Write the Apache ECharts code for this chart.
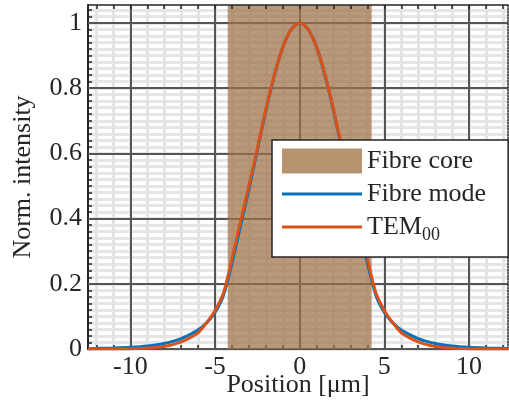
<!DOCTYPE html>
<html>
<head>
    <meta charset="utf-8"/>
    <title>Fibre mode</title>
    <script type="text/javascript" src="https://cdn.jsdelivr.net/npm/echarts@6.0.0/dist/echarts.min.js"></script>
    <style>
        html, body {
            margin: 0;
            padding: 0;
            background: #fff;
        }
    </style>
</head>
<body>
<div id="mode-container" style="width:509px;height:403px"></div>

<script type="text/javascript">
    // positions in um
    let positions = [-12.5, -11, -10, -9, -8, -7, -6, -5.5, -5, -4.5, -4, -3.5, -3, -2.5, -2, -1.5, -1, -0.5, 0,
        0.5, 1, 1.5, 2, 2.5, 3, 3.5, 4, 4.5, 5, 5.5, 6, 7, 8, 9, 10, 11, 12.5];
    let fibreMode = [0.001, 0.003, 0.005, 0.009, 0.017, 0.032, 0.058, 0.08, 0.112, 0.165, 0.263, 0.376, 0.49, 0.61, 0.73, 0.838, 0.925, 0.98, 1,
        0.98, 0.925, 0.838, 0.73, 0.61, 0.49, 0.376, 0.263, 0.165, 0.112, 0.08, 0.058, 0.032, 0.017, 0.009, 0.005, 0.003, 0.001];
    let tem00 = [0, 0.0003, 0.001, 0.003, 0.008, 0.022, 0.05, 0.08, 0.118, 0.172, 0.276, 0.39, 0.5, 0.615, 0.735, 0.84, 0.925, 0.98, 1,
        0.98, 0.925, 0.84, 0.735, 0.615, 0.5, 0.39, 0.276, 0.172, 0.118, 0.08, 0.05, 0.022, 0.008, 0.003, 0.001, 0.0003, 0];
    let coreEdges = [-4.25, 4.25];

    let xMajor = [-10, -5, 0, 5, 10];
    let xMinor = [-12, -11, -10, -9, -8, -7, -6, -5, -4, -3, -2, -1, 0, 1, 2, 3, 4, 5, 6, 7, 8, 9, 10, 11, 12];
    let yMajor = [0, 0.2, 0.4, 0.6, 0.8, 1];
    let yMinor = [];
    for (let i = 0; i <= 52; i++) {
        yMinor.push(Math.round(i * 2) / 100);
    }

    let font = 'Liberation Serif';
    let ink = '#262626';
    let fs = 26;

    function pairs(xs, ys) {
        return xs.map(function (x, i) {
            return [x, ys[i]];
        });
    }

    let chart = echarts.init(document.getElementById('mode-container'));

    let xBase = {
        type: 'value',
        min: -12.5,
        max: 12.3,
        gridIndex: 0
    };
    let yBase = {
        type: 'value',
        min: 0,
        max: 1.055,
        gridIndex: 0
    };

    chart.setOption({
        animation: false,
        grid: {
            left: 88,
            right: 1,
            top: 5,
            bottom: 54,
            containLabel: false,
            outerBoundsMode: 'none'
        },
        legend: {
            orient: 'vertical',
            left: 272,
            top: 140,
            padding: [8, 22, 13, 10],
            itemWidth: 80,
            itemHeight: 25,
            itemGap: 7,
            backgroundColor: '#fff',
            borderColor: ink,
            borderWidth: 1.5,
            borderRadius: 0,
            textStyle: {
                color: ink,
                fontFamily: font,
                fontSize: fs,
                rich: {
                    m: {fontFamily: font, fontSize: fs, color: ink},
                    s: {fontFamily: font, fontSize: 18, color: ink, padding: [16, 0, 0, 0]}
                }
            },
            formatter: function (name) {
                if (name === 'TEM00') {
                    return '{m|TEM}{s|00}';
                }
                return '{m|' + name + '}';
            },
            data: [
                {name: 'Fibre core', icon: 'rect'},
                {name: 'Fibre mode', icon: 'path://M0,0H80V3H0Z'},
                {name: 'TEM00', icon: 'path://M0,0H80V3H0Z'}
            ]
        },
        xAxis: [
            Object.assign({}, xBase, {
                position: 'bottom',
                z: 0,
                name: 'Position [μm]',
                nameLocation: 'middle',
                nameGap: 23,
                nameMoveOverlap: false,
                nameTextStyle: {fontFamily: font, fontSize: fs, color: ink},
                axisLine: {show: true, onZero: false, lineStyle: {color: ink, width: 2}},
                axisTick: {show: true, inside: true, length: 4, customValues: xMinor, lineStyle: {color: ink, width: 1.5}},
                axisLabel: {customValues: xMajor, margin: 5, fontFamily: font, fontSize: fs, color: ink},
                splitLine: {show: true, lineStyle: {color: '#e4e4e4', width: 3, type: 'solid'}}
            }),
            Object.assign({}, xBase, {
                position: 'bottom',
                z: 1,
                axisLine: {show: false},
                axisTick: {show: false, customValues: xMajor},
                axisLabel: {show: false},
                splitLine: {show: true, lineStyle: {color: '#555555', width: 2, type: 'solid'}}
            }),
            Object.assign({}, xBase, {
                position: 'top',
                z: 1,
                axisLine: {show: true, onZero: false, lineStyle: {color: ink, width: 1.5}},
                axisTick: {show: true, inside: true, length: 4, customValues: xMinor, lineStyle: {color: ink, width: 1.5}},
                axisLabel: {show: false},
                splitLine: {show: false}
            })
        ],
        yAxis: [
            Object.assign({}, yBase, {
                position: 'left',
                z: 0,
                name: 'Norm. intensity',
                nameLocation: 'middle',
                nameGap: 52,
                nameMoveOverlap: false,
                nameTextStyle: {fontFamily: font, fontSize: fs, color: ink},
                axisLine: {show: true, onZero: false, lineStyle: {color: ink, width: 2}},
                axisTick: {show: true, inside: true, length: 4, customValues: yMinor, lineStyle: {color: ink, width: 1.5}},
                axisLabel: {customValues: yMajor, margin: 6, fontFamily: font, fontSize: fs, color: ink},
                splitLine: {show: true, lineStyle: {color: '#e6e6e6', width: 3, type: 'solid'}}
            }),
            Object.assign({}, yBase, {
                position: 'left',
                z: 1,
                axisLine: {show: false},
                axisTick: {show: false, customValues: yMajor},
                axisLabel: {show: false},
                splitLine: {show: true, lineStyle: {color: '#555555', width: 2, type: 'solid'}}
            }),
            Object.assign({}, yBase, {
                position: 'right',
                z: 1,
                axisLine: {show: true, onZero: false, lineStyle: {color: ink, width: 1.5, type: 'dotted'}},
                axisTick: {show: false},
                axisLabel: {show: false},
                splitLine: {show: false}
            })
        ],
        series: [
            {
                name: 'Fibre core',
                type: 'line',
                data: [],
                color: '#b8936f',
                symbol: 'none',
                markArea: {
                    silent: true,
                    itemStyle: {color: 'rgba(160,112,70,0.72)'},
                    data: [[{xAxis: coreEdges[0]}, {xAxis: coreEdges[1]}]]
                }
            },
            {
                name: 'Fibre mode',
                type: 'line',
                data: pairs(positions, fibreMode),
                color: '#0072bd',
                symbol: 'none',
                smooth: 0.3,
                lineStyle: {width: 3}
            },
            {
                name: 'TEM00',
                type: 'line',
                data: pairs(positions, tem00),
                color: '#d95319',
                symbol: 'none',
                smooth: 0.3,
                lineStyle: {width: 3}
            }
        ]
    });
</script>
</body>
</html>
